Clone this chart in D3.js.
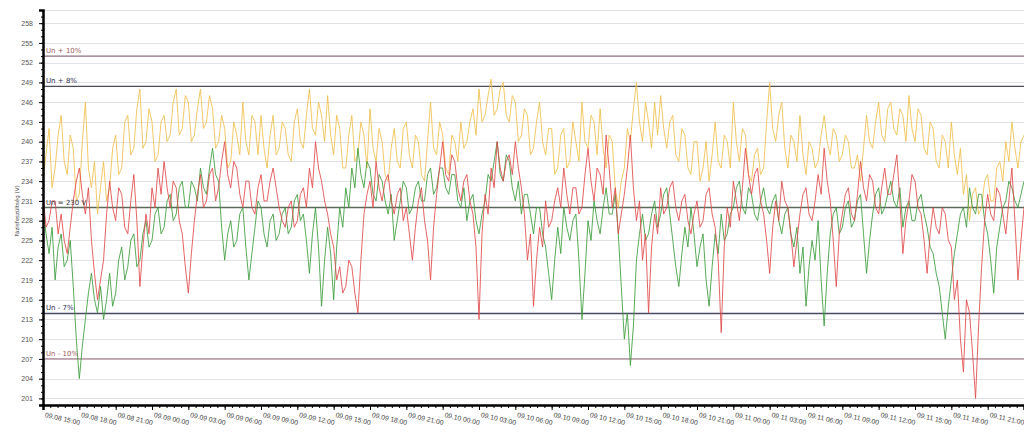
<!DOCTYPE html>
<html>
<head>
<meta charset="utf-8">
<script src="https://cdn.jsdelivr.net/npm/d3@7"></script>
<style>
  body { margin: 0; background: #fff; }
  svg { display: block; font-family: "DejaVu Sans", sans-serif; }
</style>
</head>
<body>
<div id="chart"></div>
<script>
// Measurements every 15 minutes starting at 09.08 15:00
const startTime = new Date(2014, 8, 8, 15, 0);
const stepMinutes = 15;

const phaseYellow = [
  234, 238, 242, 233, 236, 241, 244, 237, 235, 241, 239, 231, 232, 240, 246, 236, 233, 237, 229, 233,
  237, 231, 233, 239, 241, 235, 236, 243, 244, 238, 239, 245, 248, 239, 240, 245, 243, 237, 238, 243,
  244, 240, 241, 246, 248, 241, 242, 247, 246, 240, 241, 245, 248, 242, 243, 247, 245, 239, 240, 244,
  242, 236, 237, 243, 241, 238, 246, 240, 238, 244, 243, 238, 244, 239, 236, 241, 244, 238, 239, 243,
  242, 238, 237, 243, 245, 240, 239, 244, 248, 242, 241, 246, 244, 240, 247, 241, 238, 244, 242, 236,
  236, 241, 244, 237, 238, 243, 241, 236, 245, 239, 237, 242, 240, 235, 234, 239, 242, 237, 236, 242,
  243, 238, 236, 241, 240, 235, 234, 240, 246, 239, 238, 243, 241, 236, 235, 241, 240, 237, 243, 239,
  240, 243, 245, 241, 248, 243, 244, 247, 249.5, 244, 245, 248, 249, 244, 243, 247, 246, 240, 241, 245,
  244, 238, 239, 243, 246, 240, 238, 242, 242, 235, 236, 241, 242, 236, 237, 243, 240, 237, 246, 240,
  239, 244, 243, 238, 245, 239, 236, 241, 240, 233, 230, 234, 236, 242, 240, 245, 249, 243, 240, 246,
  243, 239, 246, 241, 247, 242, 239, 243, 244, 238, 237, 242, 241, 236, 235, 240, 240, 234, 236, 240,
  234, 238, 243, 237, 236, 241, 240, 236, 246, 240, 237, 242, 241, 235, 234, 238, 239, 235, 236, 243,
  249, 242, 240, 244, 246, 239, 236, 241, 240, 237, 244, 238, 235, 240, 239, 236, 237, 241, 244, 240,
  238, 242, 241, 237, 238, 241, 240, 236, 236, 238, 234, 239, 244, 240, 239, 243, 246, 241, 240, 245,
  246, 242, 241, 245, 244, 240, 247, 242, 240, 245, 244, 239, 238, 243, 242, 237, 236, 241, 240, 236,
  243, 238, 235, 239, 232, 235, 228, 232, 233, 229, 230, 234, 235, 231, 231, 236, 237, 234, 240, 237,
  243, 239, 236, 240, 241
];

const phaseGreen = [
  230, 226, 223, 227, 219, 224, 226, 221, 222, 225, 218, 210, 204, 209, 213, 217, 220, 216, 214, 218,
  213, 216, 220, 215, 217, 222, 224, 219, 221, 225, 226, 221, 222, 226, 228, 224, 225, 229, 230, 226,
  227, 231, 232, 228, 229, 233, 234, 230, 230, 234, 233, 231, 236, 233, 232, 236, 239, 235, 234, 227,
  222, 226, 228, 224, 225, 229, 230, 224, 219, 223, 227, 231, 230, 226, 224, 228, 229, 225, 226, 229,
  230, 226, 227, 231, 232, 228, 229, 225, 220, 226, 230, 224, 215, 222, 227, 223, 216, 224, 230, 227,
  233, 230, 236, 233, 239, 235, 233, 237, 236, 232, 231, 235, 234, 231, 229, 232, 225, 228, 231, 234,
  233, 229, 230, 233, 234, 231, 231, 235, 236, 232, 233, 236, 236, 233, 232, 235, 235, 231, 230, 233,
  228, 231, 232, 228, 226, 229, 231, 235, 234, 237, 240, 235, 234, 238, 237, 233, 231, 234, 229, 232,
  232, 229, 226, 230, 230, 226, 224, 220, 216, 222, 227, 223, 230, 227, 225, 228, 229, 222, 213, 220,
  228, 225, 231, 228, 226, 230, 233, 229, 229, 232, 226, 218, 210, 214, 206, 212, 222, 226, 229, 225,
  226, 229, 231, 227, 229, 232, 233, 229, 225, 221, 218, 223, 227, 224, 230, 226, 221, 224, 226, 219,
  215, 221, 226, 223, 229, 225, 226, 229, 230, 233, 234, 230, 229, 233, 232, 229, 228, 231, 233, 230,
  229, 231, 232, 228, 226, 229, 230, 226, 224, 227, 220, 224, 215, 221, 225, 222, 228, 219, 212, 220,
  226, 229, 230, 226, 227, 230, 231, 227, 228, 231, 232, 226, 220, 225, 229, 232, 233, 229, 230, 232,
  234, 231, 230, 233, 227, 230, 231, 228, 228, 231, 232, 229, 227, 224, 223, 220, 218, 214, 210, 215,
  219, 223, 226, 229, 230, 227, 233, 230, 229, 232, 232, 228, 226, 222, 217, 224, 227, 230, 231, 234,
  233, 231, 230, 232, 234
];

const phaseRed = [
  232, 227, 228, 231, 231, 226, 229, 225, 223, 227, 231, 234, 236, 232, 229, 233, 225, 220, 216, 219,
  222, 229, 234, 230, 228, 233, 232, 227, 226, 231, 235, 228, 218, 224, 229, 226, 233, 230, 236, 232,
  237, 233, 230, 234, 233, 228, 226, 221, 217, 223, 228, 232, 235, 230, 231, 235, 236, 231, 233, 237,
  240, 235, 233, 237, 236, 232, 230, 234, 234, 230, 229, 233, 235, 231, 231, 234, 236, 233, 230, 228,
  227, 230, 231, 227, 228, 232, 233, 230, 236, 233, 240, 236, 234, 231, 229, 226, 224, 219, 221, 217,
  218, 222, 221, 217, 214, 222, 229, 232, 234, 230, 237, 233, 231, 234, 235, 231, 229, 232, 233, 228,
  230, 226, 222, 227, 231, 233, 228, 225, 219, 227, 232, 236, 240, 235, 234, 238, 237, 233, 231, 234,
  235, 231, 229, 224, 213, 226, 232, 229, 236, 233, 240, 236, 234, 237, 238, 235, 240, 236, 233, 229,
  222, 226, 215, 222, 227, 224, 231, 227, 228, 231, 233, 230, 236, 232, 229, 233, 233, 229, 230, 235,
  239, 234, 231, 236, 235, 232, 241, 236, 230, 233, 226, 229, 232, 236, 241, 233, 228, 231, 222, 226,
  214, 224, 229, 226, 233, 229, 230, 233, 234, 230, 228, 231, 232, 228, 226, 229, 231, 227, 228, 232,
  233, 229, 227, 222, 211, 224, 230, 227, 234, 231, 228, 233, 239, 235, 232, 235, 236, 231, 229, 225,
  220, 227, 231, 228, 234, 231, 230, 226, 221, 225, 229, 232, 233, 229, 228, 231, 235, 232, 239, 234,
  231, 225, 218, 226, 229, 232, 233, 229, 228, 232, 237, 233, 231, 235, 234, 230, 229, 233, 236, 232,
  232, 235, 238, 231, 223, 228, 231, 235, 234, 230, 229, 225, 220, 226, 230, 227, 226, 230, 229, 225,
  224, 216, 219, 210, 205, 216, 214, 208, 201, 212, 221, 228, 232, 229, 228, 233, 232, 229, 226, 231,
  236, 228, 219, 225, 230
];

const seriesNames = ["L1", "L3", "L2"];
const seriesColors = ["#f0c04e", "#3c9c3c", "#e04a4a"];

// Limit lines around the nominal 230 V
const refValues = [253, 248.4, 230, 213.9, 207];
const refLabels = ["Un + 10%", "Un + 8%", "Un = 230 V", "Un - 7%", "Un - 10%"];
const refColors = ["#8c6c7c", "#4c4c5c", "#5c6a5c", "#4a4a66", "#a88290"];
const refTextColors = ["#a05a5a", "#2c2c50", "#3a3a3a", "#2c2c50", "#a05a5a"];

const yTickValues = d3.range(201, 259, 3);
const yLabel = "Fázisfeszültség (V)";

const width = 1024;
const height = 437;
const margin = { top: 10, right: 0, bottom: 32, left: 43 };
const plotWidth = width - margin.left - margin.right;
const plotHeight = height - margin.top - margin.bottom;

const svg = d3.select("#chart").append("svg").attr("width", width).attr("height", height);
const g = svg.append("g").attr("transform", `translate(${margin.left},${margin.top})`);

const endTime = d3.timeHour.offset(startTime, 81);
const x = d3.scaleTime().domain([startTime, endTime]).range([0, plotWidth]);
const y = d3.scaleLinear().domain([200, 260]).range([plotHeight, 0]);

// Grid
g.append("g")
    .selectAll("line")
    .data(yTickValues.concat([260]))
    .enter()
    .append("line")
    .attr("x1", 0)
    .attr("x2", plotWidth)
    .attr("y1", d => Math.round(y(d)) + 0.5)
    .attr("y2", d => Math.round(y(d)) + 0.5)
    .attr("stroke", "#e2e2e6")
    .attr("stroke-width", 1);

// Reference lines
g.append("g")
    .selectAll("line")
    .data(refValues)
    .enter()
    .append("line")
    .attr("x1", 0)
    .attr("x2", plotWidth)
    .attr("y1", d => y(d))
    .attr("y2", d => y(d))
    .attr("stroke", (d, i) => refColors[i])
    .attr("stroke-width", 1.3);

// Series
const allSeries = [phaseYellow, phaseGreen, phaseRed];
const line = d3.line()
    .x((d, i) => x(d3.timeMinute.offset(startTime, i * stepMinutes)))
    .y(d => y(d));

g.append("g")
    .selectAll("path")
    .data(allSeries)
    .enter()
    .append("path")
    .attr("d", d => line(d))
    .attr("fill", "none")
    .attr("stroke", (d, i) => seriesColors[i])
    .attr("stroke-width", 1)
    .attr("stroke-opacity", 0.85)
    .append("title")
    .text((d, i) => seriesNames[i]);

// Reference labels
g.append("g")
    .selectAll("text")
    .data(refValues)
    .enter()
    .append("text")
    .attr("x", 3)
    .attr("y", d => y(d) - 3)
    .attr("font-size", 7)
    .attr("fill", (d, i) => refTextColors[i])
    .text((d, i) => refLabels[i]);

// Y axis
const yAxis = g.append("g")
    .call(d3.axisLeft(y).tickValues(yTickValues).tickSize(4).tickFormat(d3.format("d")));
yAxis.select(".domain").attr("stroke", "#000").attr("stroke-width", 2.5);
yAxis.selectAll("text").attr("font-size", 7).attr("fill", "#555").attr("x", -10);
g.append("g")
    .call(d3.axisLeft(y).tickValues(d3.range(200, 261, 1)).tickSize(2).tickFormat(""))
    .call(s => s.select(".domain").remove());

// X axis: labels every 3 hours, minor ticks in five steps between
const xMajor = d3.range(0, 27).map(k => d3.timeHour.offset(startTime, k * 3));
const xMinor = d3.range(0, 136).map(k => d3.timeMinute.offset(startTime, k * 36));
g.append("g")
    .attr("transform", `translate(0,${plotHeight})`)
    .call(d3.axisBottom(x).tickValues(xMinor).tickSize(3).tickFormat(""))
    .call(s => s.select(".domain").remove());
const xAxis = g.append("g")
    .attr("transform", `translate(0,${plotHeight})`)
    .call(d3.axisBottom(x).tickValues(xMajor).tickSize(5).tickFormat(d3.timeFormat("%m.%d %H:%M")));
xAxis.select(".domain").attr("stroke", "#000").attr("stroke-width", 2.5);
xAxis.selectAll("text")
    .attr("font-family", "'Liberation Sans', sans-serif")
    .attr("font-size", 6.8)
    .attr("fill", "#444")
    .attr("text-anchor", "start")
    .attr("y", 0)
    .attr("dy", 0)
    .attr("transform", "translate(1,12) rotate(13)");

// Y label
svg.append("text")
    .attr("transform", `translate(19,211) rotate(-90)`)
    .attr("text-anchor", "middle")
    .attr("font-size", 5.5)
    .attr("fill", "#444")
    .text(yLabel);
</script>
</body>
</html>
